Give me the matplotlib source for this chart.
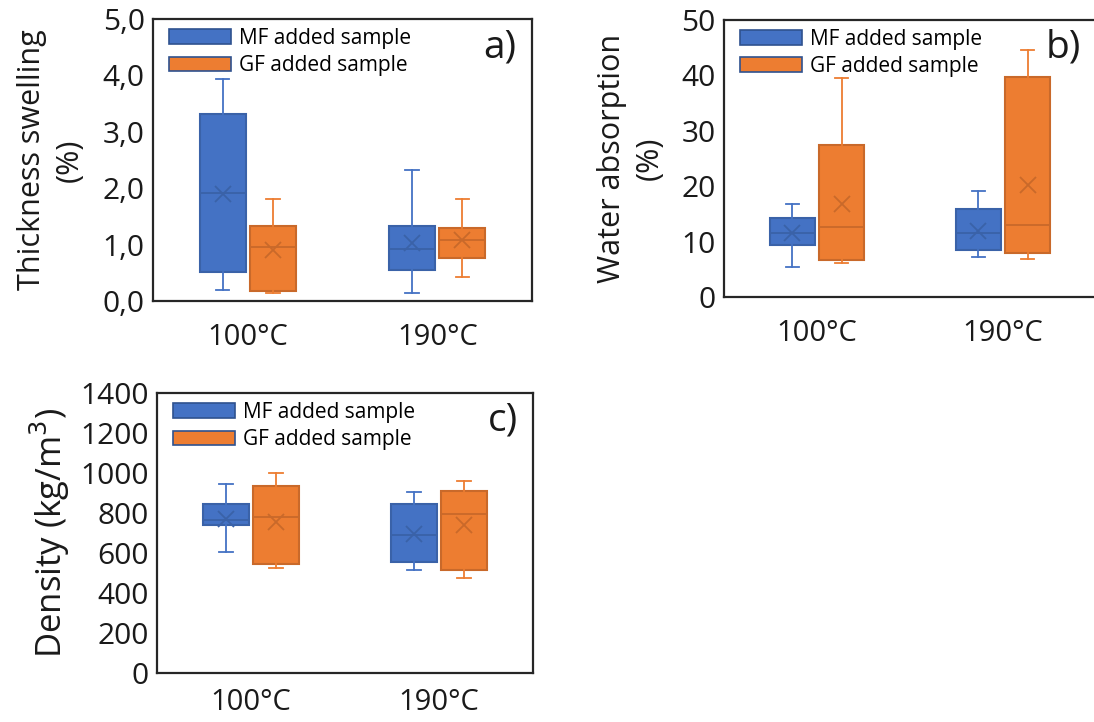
import matplotlib
matplotlib.use("Agg")
import matplotlib.pyplot as plt
from matplotlib.patches import Patch

plt.rcParams['font.family'] = ['Open Sans', 'DejaVu Sans']

categories = ["100°C", "190°C"]
series_names = ["MF added sample", "GF added sample"]

# each stats: [whislo, q1, med, q3, whishi, mean] per category
ts_mf = [[0.20, 0.52, 1.92, 3.32, 3.93, 1.90], [0.14, 0.55, 0.93, 1.33, 2.33, 1.02]]
ts_gf = [[0.14, 0.17, 0.95, 1.33, 1.80, 0.90], [0.43, 0.76, 1.08, 1.30, 1.80, 1.08]]

wa_mf = [[5.5, 9.3, 11.5, 14.2, 16.8, 11.6], [7.3, 8.5, 11.5, 15.9, 19.1, 11.9]]
wa_gf = [[6.2, 6.7, 12.7, 27.4, 39.5, 16.8], [6.8, 7.9, 13.0, 39.8, 44.5, 20.3]]

de_mf = [[606, 739, 764, 846, 943, 772], [516, 556, 690, 846, 903, 695]]
de_gf = [[526, 543, 782, 936, 1000, 754], [476, 516, 796, 911, 961, 739]]

ts_ticks = [0, 1, 2, 3, 4, 5]
ts_ticklabels = ["0,0", "1,0", "2,0", "3,0", "4,0", "5,0"]
wa_ticks = [0, 10, 20, 30, 40, 50]
de_ticks = [0, 200, 400, 600, 800, 1000, 1200, 1400]

BLUE = "#4472C4"
BLUE_D = "#3A62A8"
ORANGE = "#ED7D31"
ORANGE_D = "#C9692A"
LEG_EDGE = "#2F528F"
TXT = "#1a1a1a"

fig = plt.figure(figsize=(10.94, 7.22), dpi=100)

def make_stats(rows):
    out = []
    for r in rows:
        out.append(dict(whislo=r[0], q1=r[1], med=r[2], q3=r[3], whishi=r[4], mean=r[5], fliers=[]))
    return out

def draw_series(ax, rows, offset, fc, dc):
    stats = make_stats(rows)
    pos = [i + offset for i in range(len(rows))]
    ax.bxp(stats, positions=pos, widths=0.243, capwidths=0.07, showmeans=True,
           patch_artist=True, showfliers=False,
           boxprops=dict(facecolor=fc, edgecolor=dc, linewidth=1.5),
           whiskerprops=dict(color=fc, linewidth=1.3),
           capprops=dict(color=fc, linewidth=1.3),
           medianprops=dict(color=dc, linewidth=1.3),
           meanprops=dict(marker='x', markeredgecolor=dc, markersize=11, markeredgewidth=1.3))

def panel(rect, mf, gf, ylim, ticks, ticklabels, ylabel, tag, ylabel_x, ylabel_size, xpad):
    ax = fig.add_axes(rect)
    draw_series(ax, mf, -0.133, BLUE, BLUE_D)
    draw_series(ax, gf, 0.133, ORANGE, ORANGE_D)
    ax.set_xlim(-0.5, 1.5)
    ax.set_ylim(*ylim)
    ax.set_yticks(ticks)
    ax.set_yticklabels(ticklabels, fontsize=21.5, color=TXT)
    ax.set_xticks(range(len(categories)))
    ax.set_xticklabels(categories, fontsize=21, color=TXT)
    ax.tick_params(axis='both', length=0)
    ax.tick_params(axis='y', pad=6)
    ax.tick_params(axis='x', pad=xpad)
    for s in ax.spines.values():
        s.set_linewidth(1.6)
        s.set_color("#262626")
    ax.set_ylabel(ylabel, fontsize=ylabel_size, color=TXT, linespacing=1.35)
    ax.yaxis.set_label_coords(ylabel_x, 0.5)
    handles = [Patch(facecolor=BLUE, edgecolor=LEG_EDGE, linewidth=1.2),
               Patch(facecolor=ORANGE, edgecolor=LEG_EDGE, linewidth=1.2)]
    ax.legend(handles, series_names, loc='upper left', bbox_to_anchor=(0.042, 0.968),
              frameon=False, fontsize=15, handlelength=2.98, handleheight=0.72,
              handletextpad=0.4, labelspacing=0.30, borderpad=0, borderaxespad=0)
    ax.text(0.96, 0.90, tag, transform=ax.transAxes, ha='right', va='center',
            fontsize=28, color=TXT)
    return ax

panel([153/1094, 1 - 301/722, 379/1094, 282/722], ts_mf, ts_gf, (0, 5), ts_ticks, ts_ticklabels,
      "Thickness swelling\n(%)", "a)", -0.179, 22, 16)
panel([724/1094, 1 - 297/722, 372/1094, 277/722], wa_mf, wa_gf, (0, 50), wa_ticks,
      [str(t) for t in wa_ticks], "Water absorption\n(%)", "b)", -0.159, 22, 16)
panel([157/1094, 1 - 673/722, 376/1094, 280/722], de_mf, de_gf, (0, 1400), de_ticks,
      [str(t) for t in de_ticks], "Density (kg/m$^3$)", "c)", -0.225, 25, 11)

fig.savefig("out.png", dpi=100)
